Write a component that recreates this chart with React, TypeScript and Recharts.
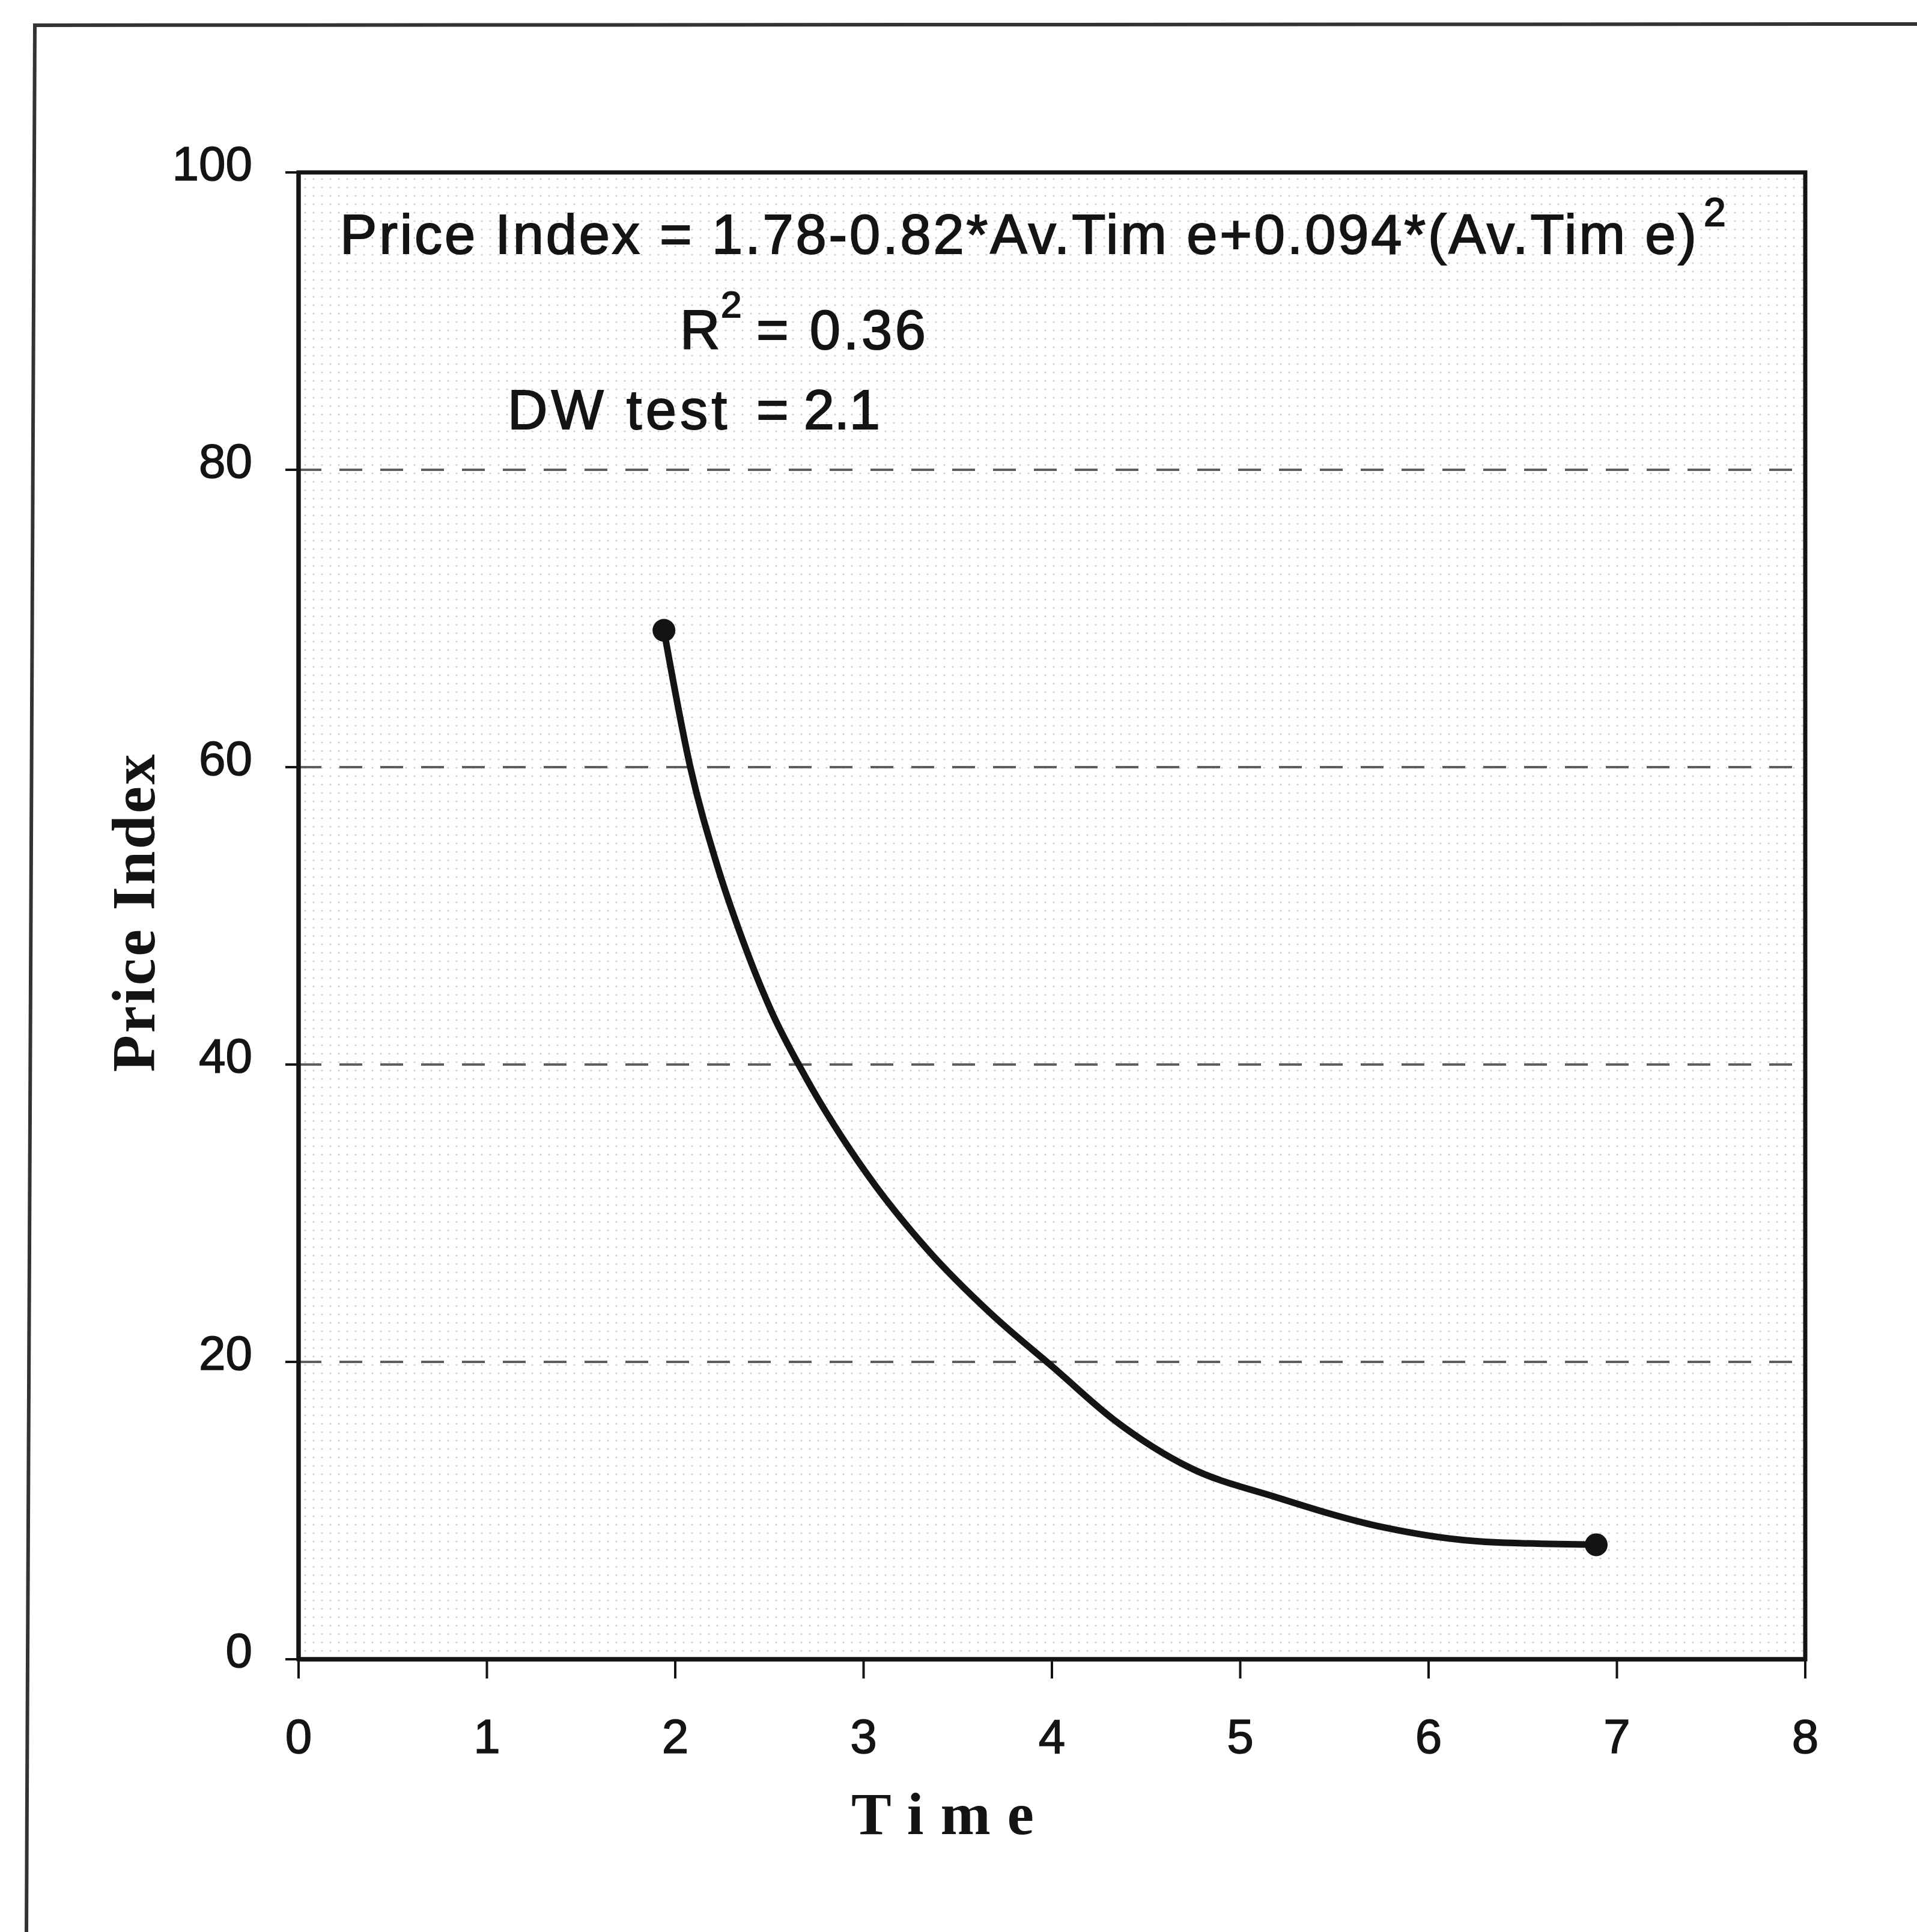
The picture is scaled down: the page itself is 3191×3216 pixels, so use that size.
import React from 'react';
import {
  ComposedChart,
  Line,
  XAxis,
  YAxis,
  CartesianGrid,
  ReferenceArea,
  Customized,
} from 'recharts';

// ---- data ----
const timeValues = [1.94, 2.08, 2.22, 2.36, 2.51, 2.69, 3.02, 3.35, 3.68, 4.01, 4.33, 4.73, 5.19, 5.75, 6.3, 6.89];
const priceIndexValues = [69.2, 60.0, 53.5, 48.3, 43.6, 39.2, 32.6, 27.4, 23.2, 19.6, 16.1, 12.9, 10.9, 8.9, 7.9, 7.7];
const xTicks = [0, 1, 2, 3, 4, 5, 6, 7, 8];
const yTicks = [0, 20, 40, 60, 80, 100];
const xTitle = 'Time';
const yTitle = 'Price Index';
const equationText = 'Price Index = 1.78-0.82*Av.Tim e+0.094*(Av.Tim e)';
const r2Text = '= 0.36';
const dwLabel = 'DW test';
const dwValue = '= 2.1';

const data = timeValues.map((t, i) => ({ time: t, price: priceIndexValues[i] }));

const SANS = '"Liberation Sans", Arial, Helvetica, sans-serif';
const SERIF = '"Liberation Serif", "Times New Roman", Times, serif';
const INK = '#141414';

const XTick = (props: any) => (
  <text
    x={props.x}
    y={props.y + 124}
    textAnchor="middle"
    fontSize={80}
    fontFamily={SANS}
    fill={INK}
    stroke={INK}
    strokeWidth={1.5}
  >
    {props.payload.value}
  </text>
);

const YTick = (props: any) => (
  <text
    x={props.x}
    y={props.y + 13}
    textAnchor="end"
    fontSize={80}
    fontFamily={SANS}
    fill={INK}
    stroke={INK}
    strokeWidth={1.5}
  >
    {props.payload.value}
  </text>
);

const EndDot = (props: any) => {
  const { cx, cy, index } = props;
  if (index === 0 || index === data.length - 1) {
    return <circle key={`dot-${index}`} cx={cx} cy={cy} r={19} fill={INK} stroke="none" />;
  }
  return <g key={`dot-${index}`} />;
};

const txt = { fontFamily: SANS, fill: INK, stroke: INK, strokeWidth: 2 };

const Annotations = () => (
  <g>
    {/* outer figure frame */}
    <path d="M 44 3216 L 58 42 L 3191 40" fill="none" stroke="#333" strokeWidth={6} />
    {/* regression equation */}
    <text x={566} y={422} fontSize={92} {...txt} textLength={2258} lengthAdjust="spacing">
      {equationText}
    </text>
    <text x={2836} y={376} fontSize={66} {...txt}>2</text>
    {/* R squared */}
    <text x={1132} y={581} fontSize={92} {...txt}>R</text>
    <text x={1200} y={528} fontSize={62} {...txt}>2</text>
    <text x={1259} y={581} fontSize={92} {...txt} textLength={282} lengthAdjust="spacing">
      {r2Text}
    </text>
    {/* DW test */}
    <text x={845} y={714} fontSize={92} {...txt} textLength={365} lengthAdjust="spacing">
      {dwLabel}
    </text>
    <text x={1259} y={714} fontSize={92} {...txt} textLength={206} lengthAdjust="spacing">
      {dwValue}
    </text>
    {/* axis titles */}
    <text
      x={257}
      y={1520}
      transform="rotate(-90 257 1520)"
      textAnchor="middle"
      fontSize={101}
      fontWeight="bold"
      fontFamily={SERIF}
      fill={INK}
      textLength={529}
      lengthAdjust="spacing"
    >
      {yTitle}
    </text>
    <text
      x={1417}
      y={3053}
      fontSize={100}
      fontWeight="bold"
      fontFamily={SERIF}
      fill={INK}
      textLength={304}
      lengthAdjust="spacing"
    >
      {xTitle}
    </text>
  </g>
);

export default function App() {
  return (
    <div style={{ position: 'absolute', left: 0, top: 0, width: 3191, height: 3216, background: '#fff' }}>
      <ComposedChart
        width={3191}
        height={3216}
        data={data}
        margin={{ top: 287, right: 186, left: 197, bottom: 254 }}
        style={{ fontFamily: SANS }}
      >
        <defs>
          <pattern id="stipple" width="14" height="14" patternUnits="userSpaceOnUse">
            <rect width="14" height="14" fill="#ffffff" />
            <circle cx="4" cy="4" r="1.6" fill="#d0d0d0" />
          </pattern>
        </defs>
        <CartesianGrid
          vertical={false}
          stroke="#5e5e5e"
          strokeWidth={4}
          strokeDasharray="38 30"
          fill="url(#stipple)"
          fillOpacity={1}
        />
        <XAxis
          dataKey="time"
          type="number"
          domain={[0, 8]}
          ticks={xTicks}
          interval={0}
          height={200}
          tickSize={32}
          tickMargin={0}
          axisLine={{ stroke: INK, strokeWidth: 7 }}
          tickLine={{ stroke: INK, strokeWidth: 4 }}
          tick={XTick}
        />
        <YAxis
          dataKey="price"
          type="number"
          domain={[0, 100]}
          ticks={yTicks}
          interval={0}
          width={300}
          tickSize={22}
          tickMargin={55}
          axisLine={{ stroke: INK, strokeWidth: 7 }}
          tickLine={{ stroke: INK, strokeWidth: 4 }}
          tick={YTick}
        />
        <ReferenceArea
          x1={0}
          x2={8}
          y1={0}
          y2={100}
          fill="none"
          fillOpacity={0}
          stroke={INK}
          strokeWidth={7}
        />
        <Line
          dataKey="price"
          type="monotone"
          stroke={INK}
          strokeWidth={11}
          dot={EndDot}
          activeDot={false}
          isAnimationActive={false}
        />
        <Customized component={Annotations} />
      </ComposedChart>
    </div>
  );
}
